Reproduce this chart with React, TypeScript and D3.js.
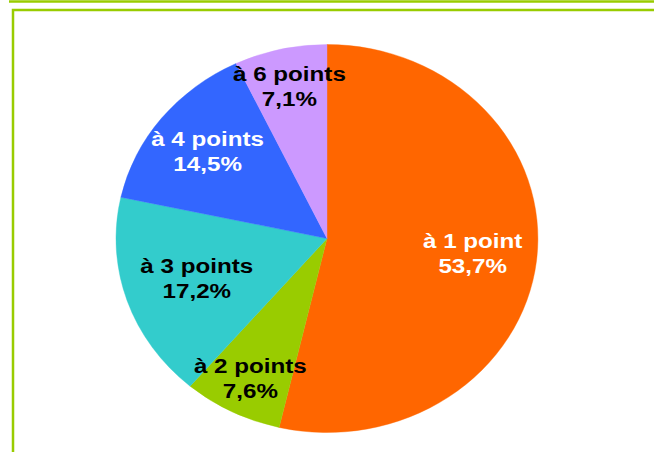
import React from "react";
import * as d3 from "d3";

const categories = ["à 1 point", "à 2 points", "à 3 points", "à 4 points", "à 6 points"];
const values = [53.7, 7.6, 17.2, 14.5, 7.1];
const valueLabels = ["53,7%", "7,6%", "17,2%", "14,5%", "7,1%"];

const colors = ["#FF6600", "#99CC00", "#33CCCC", "#3366FF", "#CC99FF"];
const labelColors = ["#FFFFFF", "#000000", "#000000", "#FFFFFF", "#000000"];
const labelRadius = [0.695, 0.806, 0.651, 0.722, 0.806];

const W = 654;
const H = 452;
const cx = 327;
const cy = 238.5;
const rx = 211;
const ry = 194;

export default function App() {
  const pie = d3
    .pie<number>()
    .sort(null)
    .value((d) => d)
    .startAngle(0)
    .endAngle(2 * Math.PI);
  const arcs = pie(values);
  const arc = d3.arc<d3.PieArcDatum<number>>().innerRadius(0).outerRadius(1);

  return (
    <svg
      width={W}
      height={H}
      style={{ position: "absolute", left: 0, top: 0, display: "block", background: "#fff" }}
    >
      <line x1={9} y1={1.5} x2={W} y2={1.5} stroke="#99CC00" strokeWidth={2.5} />
      <rect x={13} y={10} width={W + 20} height={H + 20} fill="#fff" stroke="#99CC00" strokeWidth={2.5} />
      <g transform={`translate(${cx},${cy}) scale(${rx},${ry})`}>
        {arcs.map((a, i) => (
          <path key={i} d={arc(a) || ""} fill={colors[i]} stroke={colors[i]} strokeWidth={0.002} />
        ))}
      </g>
      <g fontFamily="'Liberation Sans', Arial, sans-serif" fontWeight="bold" fontSize={20}>
        {arcs.map((a, i) => {
          const mid = (a.startAngle + a.endAngle) / 2;
          const r = labelRadius[i];
          const x = cx + rx * r * Math.sin(mid);
          const y = cy - ry * r * Math.cos(mid);
          return (
            <g key={i} fill={labelColors[i]}>
              <text textAnchor="middle" transform={`translate(${x},${y - 5.5}) scale(1.21,1)`}>
                {categories[i]}
              </text>
              <text textAnchor="middle" transform={`translate(${x},${y + 19.5}) scale(1.21,1)`}>
                {valueLabels[i]}
              </text>
            </g>
          );
        })}
      </g>
    </svg>
  );
}
